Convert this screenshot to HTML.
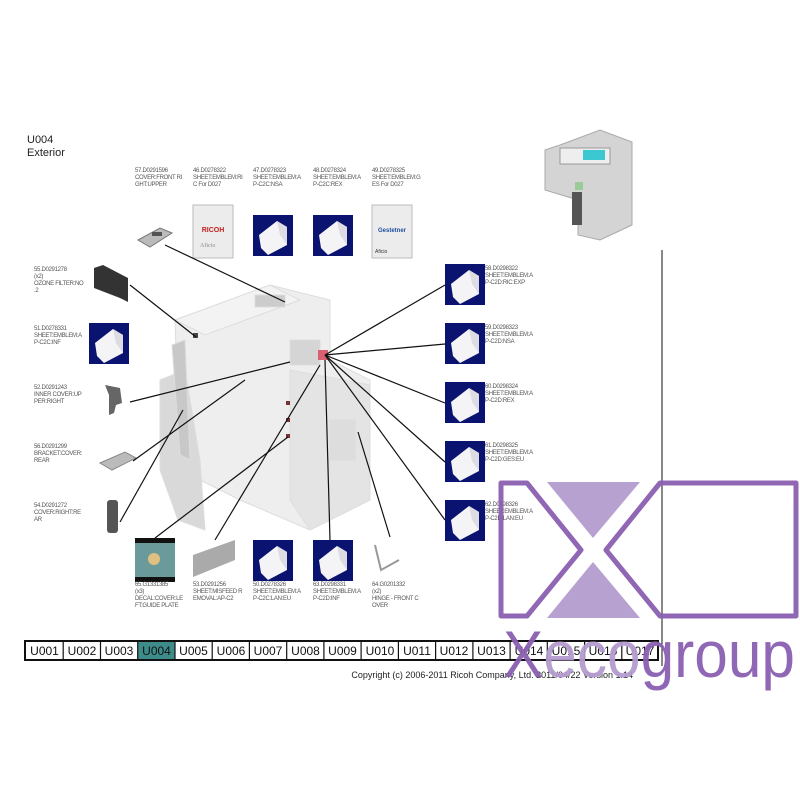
<!DOCTYPE html>
<html><head><meta charset="utf-8"><style>
html,body{margin:0;padding:0;background:#fff;}
svg{display:block;font-family:"Liberation Sans",sans-serif;}
.s{font-size:6px;fill:#555;letter-spacing:-0.3px;}
</style></head><body>
<svg width="800" height="800" viewBox="0 0 800 800" xmlns="http://www.w3.org/2000/svg">
<defs>
<g id="emb">
<rect x="0" y="0" width="40" height="41" fill="#0a1470"/>
<polygon points="6,20 24,6 34,12 34,30 15,40 8,33" fill="#f4f4f6"/>
<polygon points="24,6 34,12 34,30 27,20" fill="#dcdce2"/>
</g>
</defs>
<text x="27" y="143" font-size="11" fill="#222">U004</text>
<text x="27" y="156" font-size="11" fill="#222">Exterior</text>

<!-- machine (faint) -->
<g fill="#eee" stroke="#ddd" stroke-width="1">
<polygon points="175,320 270,285 330,300 330,360 370,380 370,500 310,530 240,500 180,470"/>
<polygon points="175,320 270,285 300,300 205,335" fill="#f3f3f3"/>
<polygon points="160,380 185,370 200,460 205,530 178,520 160,470" fill="#d9d9d9"/>
<polygon points="172,345 185,340 190,460 180,455" fill="#c8c8c8"/>
<polygon points="290,370 370,385 370,500 310,530 290,500" fill="#e4e4e4"/>
<rect x="330" y="420" width="25" height="40" fill="#ddd"/>
<rect x="255" y="295" width="30" height="12" fill="#ccc"/>
<rect x="290" y="340" width="30" height="25" fill="#d5d5d5"/>
</g>
<rect x="318" y="350" width="10" height="10" fill="#d86070"/>
<rect x="286" y="401" width="4" height="4" fill="#733"/>
<rect x="286" y="418" width="4" height="4" fill="#733"/>
<rect x="286" y="434" width="4" height="4" fill="#733"/>
<rect x="193" y="333" width="5" height="5" fill="#444"/>

<!-- thumbnail -->
<g>
<polygon points="560,145 600,130 632,142 632,225 600,240 578,235 578,200 545,190 545,150" fill="#d4d4d4" stroke="#aaa" stroke-width="1"/>
<rect x="560" y="148" width="50" height="16" fill="#eee" stroke="#999"/>
<rect x="583" y="150" width="22" height="10" fill="#3cc8d0"/>
<rect x="572" y="192" width="10" height="33" fill="#555"/>
<rect x="575" y="182" width="8" height="8" fill="#9c9"/>
</g>

<!-- top row labels -->
<g class="s">
<text x="135" y="172">57.D0291596</text><text x="135" y="179">COVER:FRONT RI</text><text x="135" y="186">GHT:UPPER</text>
<text x="193" y="172">46.D0278322</text><text x="193" y="179">SHEET:EMBLEM:RI</text><text x="193" y="186">C For D027</text>
<text x="253" y="172">47.D0278323</text><text x="253" y="179">SHEET:EMBLEM:A</text><text x="253" y="186">P-C2C:NSA</text>
<text x="313" y="172">48.D0278324</text><text x="313" y="179">SHEET:EMBLEM:A</text><text x="313" y="186">P-C2C:REX</text>
<text x="372" y="172">49.D0278325</text><text x="372" y="179">SHEET:EMBLEM:G</text><text x="372" y="186">ES For D027</text>
</g>
<!-- top images -->
<g>
<polygon points="138,240 160,228 172,233 150,247" fill="#bbb" stroke="#777"/>
<rect x="152" y="232" width="10" height="4" fill="#555"/>
<rect x="193" y="205" width="40" height="53" fill="#ececec" stroke="#bbb"/>
<text x="213" y="232" font-size="7" fill="#c02020" text-anchor="middle" font-weight="bold">RICOH</text>
<text x="200" y="247" font-size="6" fill="#888" font-family="Liberation Serif,serif">Aficio</text>
<use href="#emb" x="253" y="215"/>
<use href="#emb" x="313" y="215"/>
<rect x="372" y="205" width="40" height="53" fill="#ececec" stroke="#bbb"/>
<text x="392" y="232" font-size="6" fill="#2050a0" text-anchor="middle" font-weight="bold">Gestetner</text>
<text x="375" y="253" font-size="5" fill="#333">Aficio</text>
</g>

<!-- left labels -->
<g class="s">
<text x="34" y="271">55.D0291278</text><text x="34" y="278">(x2)</text><text x="34" y="285">OZONE FILTER:NO</text><text x="34" y="292">.2</text>
<text x="34" y="330">51.D0278331</text><text x="34" y="337">SHEET:EMBLEM:A</text><text x="34" y="344">P-C2C:INF</text>
<text x="34" y="389">52.D0291243</text><text x="34" y="396">INNER COVER:UP</text><text x="34" y="403">PER:RIGHT</text>
<text x="34" y="448">56.D0291299</text><text x="34" y="455">BRACKET:COVER:</text><text x="34" y="462">REAR</text>
<text x="34" y="507">54.D0291272</text><text x="34" y="514">COVER:RIGHT:RE</text><text x="34" y="521">AR</text>
</g>
<polygon points="94,268 103,265 128,278 128,302 120,298 94,288" fill="#333"/>
<use href="#emb" x="89" y="323"/>
<path d="M105,385 l15,3 l2,15 l-6,2 l-2,8 l-5,2 l0,-20 z" fill="#666"/>
<polygon points="100,463 125,452 136,458 112,470" fill="#bbb" stroke="#888"/>
<rect x="107" y="500" width="11" height="33" rx="3" fill="#555"/>

<!-- right boxes -->
<use href="#emb" x="445" y="264"/>
<use href="#emb" x="445" y="323"/>
<use href="#emb" x="445" y="382"/>
<use href="#emb" x="445" y="441"/>
<use href="#emb" x="445" y="500"/>
<g class="s">
<text x="485" y="270">58.D0298322</text><text x="485" y="277">SHEET:EMBLEM:A</text><text x="485" y="284">P-C2D:RIC:EXP</text>
<text x="485" y="329">59.D0298323</text><text x="485" y="336">SHEET:EMBLEM:A</text><text x="485" y="343">P-C2D:NSA</text>
<text x="485" y="388">60.D0298324</text><text x="485" y="395">SHEET:EMBLEM:A</text><text x="485" y="402">P-C2D:REX</text>
<text x="485" y="447">61.D0298325</text><text x="485" y="454">SHEET:EMBLEM:A</text><text x="485" y="461">P-C2D:GES:EU</text>
<text x="485" y="506">62.D0298326</text><text x="485" y="513">SHEET:EMBLEM:A</text><text x="485" y="520">P-C2D:LAN:EU</text>
</g>

<!-- bottom row -->
<rect x="135" y="538" width="40" height="44" fill="#6a9a9a"/>
<rect x="135" y="538" width="40" height="5" fill="#111"/>
<rect x="135" y="577" width="40" height="5" fill="#111"/>
<circle cx="154" cy="559" r="6" fill="#e0c080"/>
<polygon points="193,555 235,540 235,560 193,577" fill="#aaa"/>
<use href="#emb" x="253" y="540"/>
<use href="#emb" x="313" y="540"/>
<path d="M375,545 l6,25 l18,-10" fill="none" stroke="#999" stroke-width="2"/>
<g class="s">
<text x="135" y="586">65.G1331385</text><text x="135" y="593">(x3)</text><text x="135" y="600">DECAL:COVER:LE</text><text x="135" y="607">FT:GUIDE PLATE</text>
<text x="193" y="586">53.D0291256</text><text x="193" y="593">SHEET:MISFEED R</text><text x="193" y="600">EMOVAL:AP-C2</text>
<text x="253" y="586">50.D0278326</text><text x="253" y="593">SHEET:EMBLEM:A</text><text x="253" y="600">P-C2C:LAN:EU</text>
<text x="313" y="586">63.D0298331</text><text x="313" y="593">SHEET:EMBLEM:A</text><text x="313" y="600">P-C2D:INF</text>
<text x="372" y="586">64.G0201332</text><text x="372" y="593">(x2)</text><text x="372" y="600">HINGE - FRONT C</text><text x="372" y="607">OVER</text>
</g>

<!-- leader lines -->
<g stroke="#111" stroke-width="1.2">
<line x1="165" y1="245" x2="285" y2="302"/>
<line x1="130" y1="285" x2="196" y2="337"/>
<line x1="130" y1="402" x2="290" y2="362"/>
<line x1="133" y1="461" x2="245" y2="380"/>
<line x1="120" y1="522" x2="183" y2="410"/>
<line x1="155" y1="538" x2="288" y2="437"/>
<line x1="215" y1="540" x2="320" y2="365"/>
<line x1="330" y1="540" x2="325" y2="360"/>
<line x1="390" y1="537" x2="358" y2="432"/>
<line x1="325" y1="355" x2="445" y2="285"/>
<line x1="325" y1="355" x2="445" y2="344"/>
<line x1="325" y1="355" x2="445" y2="403"/>
<line x1="325" y1="355" x2="445" y2="462"/>
<line x1="325" y1="355" x2="445" y2="520"/>
</g>

<line x1="662" y1="250" x2="662" y2="666" stroke="#111" stroke-width="1"/>

<!-- tab bar -->
<rect x="25" y="641" width="633" height="19" fill="#fff" stroke="#111" stroke-width="2"/>
<rect x="138" y="642" width="37" height="17" fill="#3d8c8a"/>
<g stroke="#111" stroke-width="1.2">
<line x1="63.2" y1="641" x2="63.2" y2="660"/><line x1="100.5" y1="641" x2="100.5" y2="660"/><line x1="137.7" y1="641" x2="137.7" y2="660"/><line x1="175" y1="641" x2="175" y2="660"/><line x1="212.2" y1="641" x2="212.2" y2="660"/><line x1="249.4" y1="641" x2="249.4" y2="660"/><line x1="286.7" y1="641" x2="286.7" y2="660"/><line x1="323.9" y1="641" x2="323.9" y2="660"/><line x1="361.1" y1="641" x2="361.1" y2="660"/><line x1="398.4" y1="641" x2="398.4" y2="660"/><line x1="435.6" y1="641" x2="435.6" y2="660"/><line x1="472.9" y1="641" x2="472.9" y2="660"/><line x1="510.1" y1="641" x2="510.1" y2="660"/><line x1="547.3" y1="641" x2="547.3" y2="660"/><line x1="584.6" y1="641" x2="584.6" y2="660"/><line x1="621.8" y1="641" x2="621.8" y2="660"/>
</g>
<g font-size="12" fill="#111" text-anchor="middle">
<text x="44.5" y="655">U001</text><text x="82" y="655">U002</text><text x="119" y="655">U003</text><text x="156.5" y="655">U004</text><text x="193.5" y="655">U005</text><text x="231" y="655">U006</text><text x="268" y="655">U007</text><text x="305.5" y="655">U008</text><text x="342.5" y="655">U009</text><text x="380" y="655">U010</text><text x="417" y="655">U011</text><text x="454" y="655">U012</text><text x="491.5" y="655">U013</text><text x="529" y="655">U014</text><text x="566" y="655">U015</text><text x="603" y="655">U016</text><text x="640" y="655">U017</text>
</g>
<text x="633" y="678" font-size="9" fill="#222" text-anchor="end">Copyright (c) 2006-2011 Ricoh Company, Ltd.    2011/04/22 Version 1.14</text>

<!-- watermark -->
<g opacity="0.95">
<polygon points="547,482 640,482 593,538" fill="#b49ccf"/>
<polygon points="547,618 640,618 593,562" fill="#b49ccf"/>
<g fill="none" stroke="#8b5fb0" stroke-width="5" stroke-linejoin="round">
<polygon points="501,483 527,483 581,550 527,616 501,616"/>
<polygon points="660,483 796,483 796,616 660,616 606,550"/>
</g>
<text x="503" y="677" font-size="66" fill="#8b5fb0" textLength="292" lengthAdjust="spacingAndGlyphs">X<tspan fill="#b49ccf">eco</tspan>group</text>
</g>
</svg>
</body></html>
